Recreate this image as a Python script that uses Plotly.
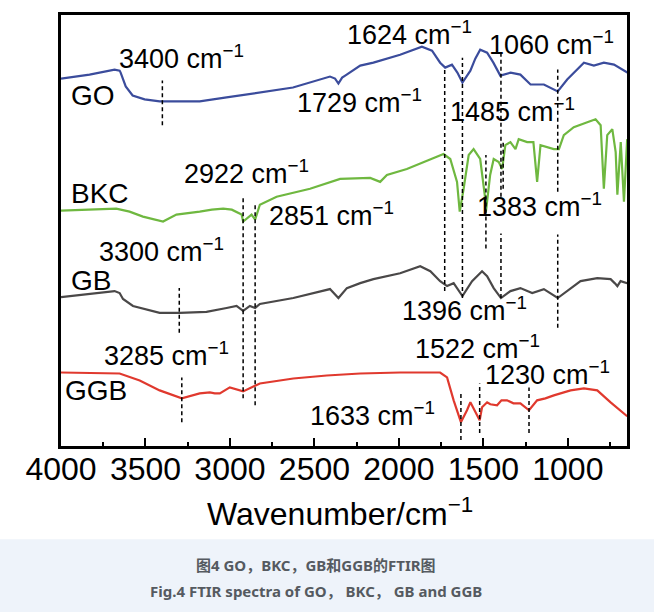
import plotly.graph_objects as go

# ---------------- data (wavenumber in cm-1, transmittance in arbitrary offset units) ----------------
go_wn = [4000, 3831, 3683, 3653, 3647, 3617, 3576, 3505, 3416, 3179, 3020, 2822, 2627, 2408, 2378, 2358,
         2336, 2318, 2229, 2151, 1993, 1864, 1804, 1756, 1726, 1686, 1654, 1624, 1577, 1548, 1519, 1478,
         1441, 1400, 1339, 1281, 1221, 1142, 1060, 1004, 944, 905, 846, 787, 727, 648]
go_t = [370, 374, 379, 378, 376, 362, 353, 349, 347, 347, 351, 356, 361, 372, 370, 365,
        371, 373, 383, 386, 394, 402, 398, 386, 381, 384, 376, 366, 378, 390, 399, 396,
        386, 373, 376, 374, 364, 364, 357, 369, 379, 386, 383, 386, 384, 376]

bkc_wn = [4000, 3673, 3594, 3515, 3396, 3317, 3179, 3107, 3040, 2989, 2931, 2922, 2872, 2851, 2823, 2724,
          2526, 2348, 2170, 2111, 2071, 1953, 1736, 1696, 1656, 1640, 1617, 1587, 1558, 1519, 1492, 1485,
          1460, 1439, 1409, 1389, 1370, 1340, 1310, 1291, 1241, 1204, 1182, 1162, 1083, 1053, 1024, 965,
          885, 836, 806, 787, 767, 737, 717, 707, 687, 668, 649]
bkc_t = [237, 239, 236, 231, 226, 233, 236, 238, 239, 238, 233, 226, 233, 228, 243, 251,
         259, 269, 270, 266, 273, 279, 294, 289, 266, 236, 259, 293, 299, 289, 253, 236,
         273, 289, 286, 279, 303, 306, 299, 309, 306, 306, 266, 303, 299, 299, 313, 321,
         326, 329, 323, 259, 313, 319, 296, 253, 306, 246, 309]

gb_wn = [4000, 3683, 3653, 3633, 3574, 3416, 3297, 3139, 3020, 2961, 2922, 2882, 2851, 2823, 2625, 2408,
         2358, 2308, 2229, 2151, 1993, 1874, 1814, 1756, 1715, 1676, 1624, 1567, 1508, 1478, 1439, 1396,
         1340, 1281, 1211, 1142, 1060, 984, 925, 826, 747, 723, 707, 688, 649]
gb_t = [150, 156, 154, 148, 141, 134, 134, 135, 139, 141, 136, 141, 139, 143, 149, 158,
        149, 159, 164, 168, 174, 181, 176, 166, 161, 164, 151, 166, 176, 171, 159, 149,
        156, 159, 154, 158, 149, 159, 166, 169, 168, 164, 161, 166, 164]

ggb_wn = [4000, 3653, 3534, 3416, 3285, 3179, 3119, 3090, 3060, 3001, 2922, 2823, 2625, 2427, 2229, 1993,
          1756, 1715, 1676, 1633, 1597, 1577, 1522, 1508, 1478, 1459, 1419, 1393, 1360, 1322, 1281, 1230,
          1182, 1133, 1083, 984, 905, 826, 747, 649]
ggb_t = [74, 73, 66, 56, 48, 53, 54, 53, 53, 59, 55, 63, 68, 71, 73, 74,
         74, 69, 46, 24, 36, 44, 26, 39, 44, 42, 41, 46, 46, 43, 43, 36,
         46, 48, 51, 56, 58, 56, 44, 30]

series_names = ["GO", "BKC", "GB", "GGB"]
series_colors = ["#3b4c9c", "#6fb840", "#4a4848", "#e0392e"]

# marker (dashed) lines: wavenumber, lower and upper level
mark_wn = [3400, 1729, 1624, 1396, 1396, 1060, 1060, 1485, 1383, 2922, 2851, 3300, 3285, 1633, 1522, 1230]
mark_lo = [323, 156, 149, 251, 149, 256, 119, 199, 259, 48, 41, 114, 24, 6, 13, 13]
mark_hi = [368, 381, 391, 398, 214, 379, 213, 293, 306, 250, 245, 159, 69, 53, 63, 59]

# peak labels: text value, anchor wavenumber, level
peak_text = ["3400", "1624", "1060", "1729", "1485", "2922", "2851", "1383",
             "3300", "1396", "3285", "1522", "1230", "1633"]
peak_x = [3671, 2319, 1476, 2615, 1708, 3285, 2781, 1548, 3784, 1992, 3760, 1915, 1500, 2538]
peak_y = [392, 416, 406, 347, 338, 276, 234, 243, 197, 138, 93, 100, 74, 32]

name_x = [3950, 3950, 3950, 3991]
name_y = [353, 254, 167, 56]

x_ticks = [4000, 3500, 3000, 2500, 2000, 1500, 1000]

# ---------------- figure ----------------
fig = go.Figure()

spectra = [(go_wn, go_t), (bkc_wn, bkc_t), (gb_wn, gb_t), (ggb_wn, ggb_t)]
for (wn, t), nm, col in zip(spectra, series_names, series_colors):
    fig.add_trace(go.Scatter(x=wn, y=t, mode="lines", name=nm,
                             line=dict(color=col, width=2.2), showlegend=False))

dx, dy = [], []
for w, lo, hi in zip(mark_wn, mark_lo, mark_hi):
    dx += [w, w, None]
    dy += [lo, hi, None]
fig.add_trace(go.Scatter(x=dx, y=dy, mode="lines", showlegend=False,
                         line=dict(color="black", width=1.5, dash="4px,3px")))

FONT = "Liberation Sans, Arial, sans-serif"
for t, x, y in zip(peak_text, peak_x, peak_y):
    fig.add_annotation(x=x, y=y, xref="x", yref="y", text=t + " cm<sup>−1</sup>",
                       showarrow=False, xanchor="left", yanchor="middle",
                       font=dict(family=FONT, size=27, color="black"))
for t, x, y in zip(series_names, name_x, name_y):
    fig.add_annotation(x=x, y=y, xref="x", yref="y", text=t,
                       showarrow=False, xanchor="left", yanchor="middle",
                       font=dict(family=FONT, size=28, color="black"))

# axis title
fig.add_annotation(x=0.493, y=-0.152, xref="paper", yref="paper",
                   text="Wavenumber/cm<sup>−1</sup>", showarrow=False,
                   xanchor="center", yanchor="middle",
                   font=dict(family=FONT, size=32, color="black"))

# caption band
fig.add_shape(type="rect", xref="paper", yref="paper",
              x0=-0.12, x1=1.06, y0=-0.40, y1=-0.2166,
              fillcolor="#eef3fa", line=dict(width=0), layer="below")
cap_font = dict(family="Noto Sans, Noto Sans CJK SC, sans-serif", size=15, color="#555a60")
fig.add_annotation(x=0.4504, y=-0.2765, xref="paper", yref="paper",
                   text="<b>图4 GO，BKC，GB和GGB的FTIR图</b>", showarrow=False,
                   xanchor="center", yanchor="middle", font=cap_font)
fig.add_annotation(x=0.4504, y=-0.337, xref="paper", yref="paper",
                   text="<b>Fig.4 FTIR spectra of GO， BKC， GB and GGB</b>", showarrow=False,
                   xanchor="center", yanchor="middle", font=cap_font)

fig.update_xaxes(range=[4000, 650], tickvals=x_ticks, ticktext=[str(v) for v in x_ticks],
                 ticks="inside", ticklen=8, tickwidth=2, tickcolor="black",
                 minor=dict(dtick=250, tick0=0, ticks="inside", ticklen=4, tickwidth=2, tickcolor="black"),
                 showline=True, linewidth=2.5, linecolor="black", mirror=True,
                 showgrid=False, zeroline=False, ticklabelstandoff=-7,
                 tickfont=dict(family=FONT, size=32, color="black"))
fig.update_yaxes(range=[0, 434], showticklabels=False, ticks="",
                 showline=True, linewidth=2.5, linecolor="black", mirror=True,
                 showgrid=False, zeroline=False)

fig.update_layout(width=654, height=612, margin=dict(l=61, r=27, t=12, b=166),
                  paper_bgcolor="white", plot_bgcolor="white", showlegend=False)

fig.write_html("out.html", config={"displayModeBar": False},
               post_script="document.body.style.margin='0';document.body.style.overflow='hidden';")
